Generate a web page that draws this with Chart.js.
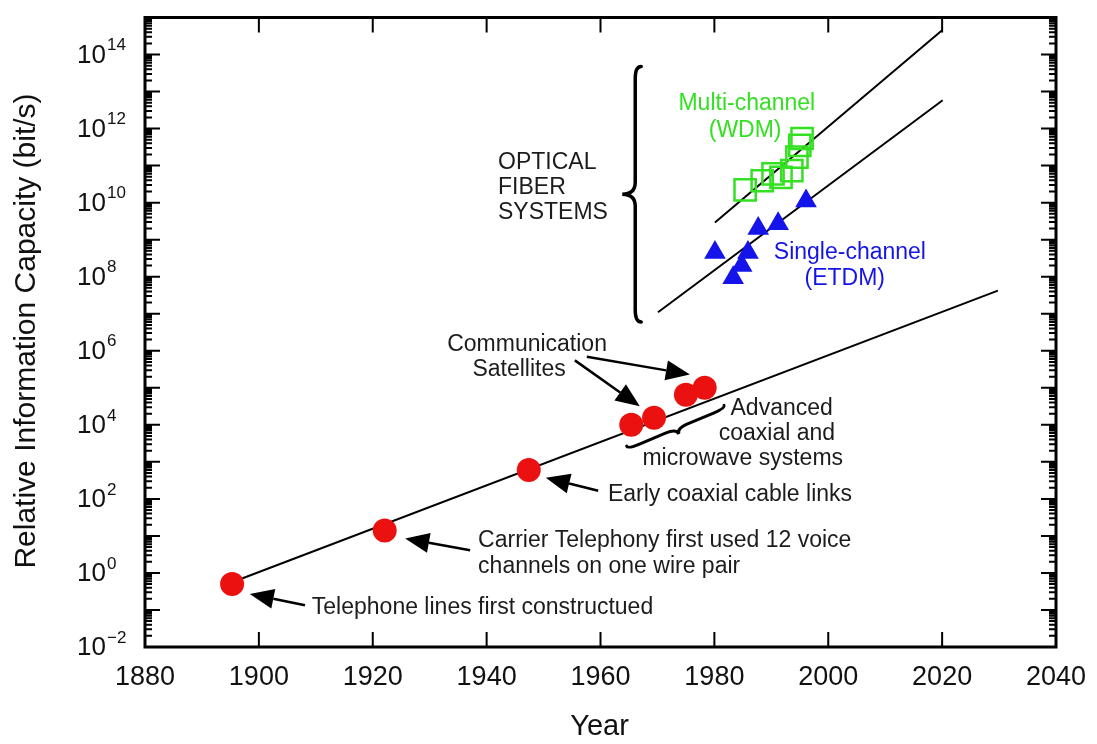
<!DOCTYPE html>
<html>
<head>
<meta charset="utf-8">
<script src="https://cdn.jsdelivr.net/npm/chart.js@4.4.1/dist/chart.umd.min.js"></script>
<style>
  html, body { margin: 0; padding: 0; background: #fff; }
  canvas { display: block; }
</style>
</head>
<body>
<canvas id="chart" width="1097" height="744"></canvas>
<script>
// axis ticks
const xTicks = [1880, 1900, 1920, 1940, 1960, 1980, 2000, 2020, 2040];
const yTickExps = [-2, 0, 2, 4, 6, 8, 10, 12, 14];

// copper / coax / radio systems (red dots)
const wireYears = [1895.3, 1922.1, 1947.4, 1965.4, 1969.4, 1975.0, 1978.3];
const wireCap = [0.5, 14, 600, 1.0e4, 1.55e4, 6.5e4, 1.0e5];

// single-channel ETDM (blue triangles)
const etdmYears = [1980.1, 1983.3, 1984.8, 1985.9, 1987.7, 1991.2, 1996.1];
const etdmCap = [4.5e8, 9.3e7, 2.0e8, 4.5e8, 2.0e9, 2.7e9, 1.1e10];

// multi-channel WDM (green squares)
const wdmYears = [1985.4, 1988.4, 1990.3, 1991.7, 1993.6, 1994.5, 1995.0, 1995.4];
const wdmCap = [2.2e10, 3.9e10, 6.0e10, 4.8e10, 7.3e10, 1.7e11, 3.5e11, 5.4e11];

// trend lines (end points)
const wireTrendYears = [1895.3, 2029.8];
const wireTrendCap = [0.56, 4.2e7];
const etdmTrendYears = [1970.1, 2020.1];
const etdmTrendCap = [1.1e7, 5.8e12];
const wdmTrendYears = [1980.1, 2020.0];
const wdmTrendCap = [2.9e9, 4.5e14];

const pts = (xs, ys) => xs.map((x, i) => ({ x, y: ys[i] }));

const FONT = '"Liberation Sans", Arial, Helvetica, sans-serif';
const RED = '#ec1111';
const BLUE = '#1414ea';
const GREEN = '#33e022';
const INK = '#1c1c1c';

// annotation texts, placed in data units (year, log10 value)
const notes = [
    { t: 'OPTICAL', yr: 1942.0, lg: 11.08, align: 'left', color: INK },
    { t: 'FIBER', yr: 1942.0, lg: 10.41, align: 'left', color: INK },
    { t: 'SYSTEMS', yr: 1942.0, lg: 9.74, align: 'left', color: INK },
    { t: 'Multi-channel', yr: 1985.7, lg: 12.66, align: 'center', color: GREEN },
    { t: '(WDM)', yr: 1985.4, lg: 11.94, align: 'center', color: GREEN },
    { t: 'Single-channel', yr: 2003.8, lg: 8.66, align: 'center', color: BLUE },
    { t: '(ETDM)', yr: 2002.9, lg: 7.94, align: 'center', color: BLUE },
    { t: 'Communication', yr: 1947.1, lg: 6.17, align: 'center', color: INK },
    { t: 'Satellites', yr: 1945.7, lg: 5.49, align: 'center', color: INK },
    { t: 'Advanced', yr: 2000.8, lg: 4.45, align: 'right', color: INK },
    { t: 'coaxial and', yr: 2001.2, lg: 3.75, align: 'right', color: INK },
    { t: 'microwave systems', yr: 2002.6, lg: 3.08, align: 'right', color: INK },
    { t: 'Early coaxial cable links', yr: 1961.3, lg: 2.11, align: 'left', color: INK },
    { t: 'Carrier Telephony first used 12 voice', yr: 1938.5, lg: 0.88, align: 'left', color: INK },
    { t: 'channels on one wire pair', yr: 1938.5, lg: 0.18, align: 'left', color: INK },
    { t: 'Telephone lines first constructued', yr: 1909.3, lg: -0.95, align: 'left', color: INK },
];

// arrows: from [yr, lg] to tip [yr, lg]
const arrows = [
    [[1957.6, 5.84], [1975.7, 5.36]],
    [[1955.5, 5.74], [1966.9, 4.50]],
    [[1959.6, 2.22], [1950.4, 2.57]],
    [[1937.1, 0.61], [1925.7, 0.93]],
    [[1908.1, -0.87], [1898.4, -0.57]],
];

const frame = {
    id: 'frame',
    afterDraw(chart) {
        const { ctx, chartArea: a, scales } = chart;
        const px = (yr) => scales.x.getPixelForValue(yr);
        const py = (lg) => scales.y.getPixelForValue(Math.pow(10, lg));
        ctx.save();

        // ticks, pointing inward on all four sides
        ctx.strokeStyle = '#000';
        ctx.lineWidth = 2;
        ctx.beginPath();
        xTicks.forEach((t) => {
            const x = px(t);
            ctx.moveTo(x, a.bottom); ctx.lineTo(x, a.bottom - 15);
            ctx.moveTo(x, a.top); ctx.lineTo(x, a.top + 15);
        });
        for (let e = -2; e <= 14; e++) {
            for (let m = 1; m <= 9; m++) {
                const v = m * Math.pow(10, e);
                if (v > 1e15) continue;
                const y = scales.y.getPixelForValue(v);
                const len = m === 1 ? 15 : 7;
                ctx.moveTo(a.left, y); ctx.lineTo(a.left + len, y);
                ctx.moveTo(a.right, y); ctx.lineTo(a.right - len, y);
            }
        }
        ctx.stroke();

        // frame
        ctx.lineWidth = 3;
        ctx.strokeRect(a.left, a.top, a.right - a.left, a.bottom - a.top);

        // tick labels
        ctx.fillStyle = '#111';
        ctx.font = `27px ${FONT}`;
        ctx.textAlign = 'center';
        ctx.textBaseline = 'middle';
        xTicks.forEach((t) => ctx.fillText(String(t), px(t), a.bottom + 31));
        yTickExps.forEach((e) => {
            const y = py(e);
            ctx.font = `26px ${FONT}`;
            ctx.textAlign = 'right';
            ctx.fillText('10', 106, y + 1);
            ctx.font = `17px ${FONT}`;
            ctx.textAlign = 'left';
            ctx.fillText(String(e).replace('-', '\u2212'), 107, y - 9);
        });

        // axis titles
        ctx.font = `29px ${FONT}`;
        ctx.textAlign = 'center';
        ctx.fillText('Year', (a.left + a.right) / 2 - 1, 727);
        ctx.save();
        ctx.translate(27, 331);
        ctx.rotate(-Math.PI / 2);
        ctx.font = `30px ${FONT}`;
        ctx.fillText('Relative Information Capacity (bit/s)', 0, 0);
        ctx.restore();

        // annotation texts
        ctx.font = `23px ${FONT}`;
        notes.forEach((n) => {
            ctx.fillStyle = n.color;
            ctx.textAlign = n.align;
            ctx.fillText(n.t, px(n.yr), py(n.lg));
        });

        // arrows
        ctx.fillStyle = '#000';
        ctx.strokeStyle = '#000';
        arrows.forEach(([from, to]) => {
            const x1 = px(from[0]), y1 = py(from[1]);
            const x2 = px(to[0]), y2 = py(to[1]);
            const ang = Math.atan2(y2 - y1, x2 - x1);
            const hl = 24, hw = 10;
            const bx = x2 - hl * Math.cos(ang), by = y2 - hl * Math.sin(ang);
            ctx.lineWidth = 2.5;
            ctx.beginPath();
            ctx.moveTo(x1, y1); ctx.lineTo(bx, by);
            ctx.stroke();
            ctx.beginPath();
            ctx.moveTo(x2, y2);
            ctx.lineTo(bx + hw * Math.sin(ang), by - hw * Math.cos(ang));
            ctx.lineTo(bx - hw * Math.sin(ang), by + hw * Math.cos(ang));
            ctx.closePath();
            ctx.fill();
        });

        // curly braces
        const brace = (x1, y1, x2, y2, tipOff, hookOff, lw) => {
            const L = Math.hypot(x2 - x1, y2 - y1);
            const r = Math.min(12, L / 8);
            ctx.save();
            ctx.translate(x1, y1);
            ctx.rotate(Math.atan2(y2 - y1, x2 - x1));
            ctx.lineWidth = lw;
            ctx.lineCap = 'round';
            ctx.beginPath();
            ctx.moveTo(0, hookOff);
            ctx.quadraticCurveTo(0, 0, r, 0);
            ctx.lineTo(L / 2 - r, 0);
            ctx.quadraticCurveTo(L / 2, 0, L / 2, tipOff);
            ctx.quadraticCurveTo(L / 2, 0, L / 2 + r, 0);
            ctx.lineTo(L - r, 0);
            ctx.quadraticCurveTo(L, 0, L, hookOff);
            ctx.stroke();
            ctx.restore();
        };
        brace(px(1966.1), py(13.68), px(1966.1), py(6.78), 13, -6, 3.5);
        brace(px(1964.8), py(3.35), px(1981.9), py(4.45), 6, -3, 3);

        ctx.restore();
    },
};

new Chart(document.getElementById('chart'), {
    type: 'scatter',
    data: {
        datasets: [
            {
                data: pts(wireYears, wireCap),
                pointStyle: 'circle',
                pointRadius: 12,
                backgroundColor: RED,
                borderWidth: 0,
                order: 1,
            },
            {
                data: pts(etdmYears, etdmCap),
                pointStyle: 'triangle',
                pointRadius: 12.5,
                backgroundColor: BLUE,
                borderWidth: 0,
                order: 1,
            },
            {
                data: pts(wdmYears, wdmCap),
                pointStyle: 'rect',
                pointRadius: 15,
                backgroundColor: 'rgba(0,0,0,0)',
                borderColor: GREEN,
                borderWidth: 2.5,
                order: 1,
            },
            {
                type: 'line',
                data: pts(wireTrendYears, wireTrendCap),
                borderColor: '#000',
                borderWidth: 2,
                pointRadius: 0,
                order: 2,
            },
            {
                type: 'line',
                data: pts(etdmTrendYears, etdmTrendCap),
                borderColor: '#000',
                borderWidth: 2,
                pointRadius: 0,
                order: 2,
            },
            {
                type: 'line',
                data: pts(wdmTrendYears, wdmTrendCap),
                borderColor: '#000',
                borderWidth: 2,
                pointRadius: 0,
                order: 2,
            },
        ],
    },
    options: {
        responsive: false,
        animation: false,
        devicePixelRatio: 1,
        layout: { padding: { left: 145, top: 14, right: 41, bottom: 97 } },
        scales: {
            x: { type: 'linear', min: 1880, max: 2040, display: false },
            y: { type: 'logarithmic', min: 1e-2, max: 1e15, display: false },
        },
        plugins: {
            legend: { display: false },
            tooltip: { enabled: false },
        },
    },
    plugins: [frame],
});
</script>
</body>
</html>
